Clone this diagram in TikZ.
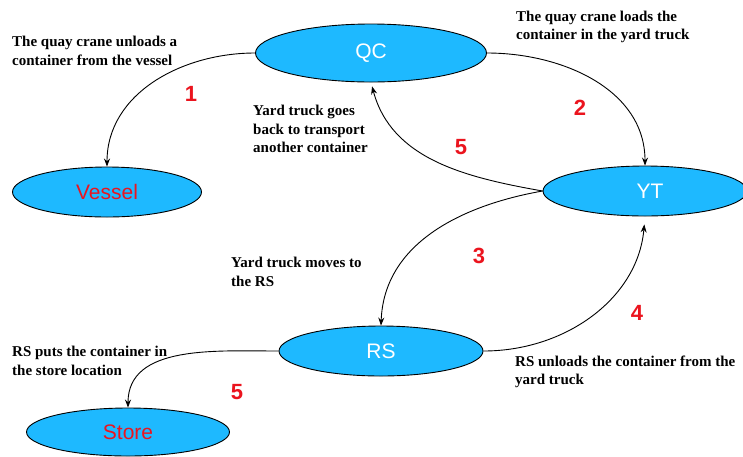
\documentclass[tikz,border=0pt]{standalone}
\usepackage{fontspec}
\setmainfont{Liberation Serif}
\newfontfamily\arialf{Liberation Sans}
\usetikzlibrary{shapes.geometric,arrows.meta}
\definecolor{nodeblue}{RGB}{30,185,255}
\definecolor{numred}{RGB}{235,20,30}
\tikzset{
  ell/.style={ellipse, draw=black, line width=0.9pt, fill=nodeblue, inner sep=0pt,
    font=\arialf\fontsize{21}{24}\selectfont},
  whitetext/.style={text=white},
  redtext/.style={text=numred},
  lbl/.style={anchor=west, inner sep=0pt, align=left,
    font=\bfseries\fontsize{15}{18.5}\selectfont},
  num/.style={text=numred, inner sep=0pt, font=\arialf\bfseries\fontsize{22}{24}\selectfont},
  conn/.style={draw=black, line width=0.9pt, -{Stealth[length=8pt,width=6pt]}}
}
\begin{document}
\begin{tikzpicture}[x=1pt,y=-1pt]
\useasboundingbox (0,0) rectangle (743,456);
\node[ell, whitetext, minimum width=231pt, minimum height=58pt] (qc) at (371,53) {QC};
\node[ell, redtext, minimum width=189pt, minimum height=50pt] (vessel) at (107,192) {Vessel};
\node[ell, whitetext, minimum width=204pt, minimum height=50pt] (yt) at (645,191) {\hspace*{10pt}YT};
\node[ell, whitetext, minimum width=204pt, minimum height=50pt] (rs) at (381,351) {RS};
\node[ell, redtext, minimum width=203pt, minimum height=48pt] (store) at (128,432) {Store};

\node[lbl] (l1) at (12,51) {The quay crane unloads a\\container from the vessel};
\node[lbl] (l2) at (516,27) {The quay crane loads the\\container in the yard truck};
\node[lbl] (l3) at (253,129) {Yard truck goes\\back to transport\\another container};
\node[lbl] (l4) at (231,272) {Yard truck moves to\\the RS};
\node[lbl] (l5) at (12,361) {RS puts the container in\\the store location};
\node[lbl] (l6) at (515,372) {RS unloads the container from the\\yard truck};

\node[num] (n1) at (191,94) {1};
\node[num] (n2) at (580,108) {2};
\node[num] (n5a) at (461,147) {5};
\node[num] (n3) at (479,256) {3};
\node[num] (n4) at (637,313) {4};
\node[num] (n5b) at (237,392) {5};

\draw[conn] (qc.west) to[out=180,in=90] (vessel.north);
\draw[conn] (qc.east) to[out=0,in=90] (yt.north);
\draw[conn, shorten >=4pt] (yt.west) to[out=170,in=-75] (qc.south);
\draw[conn] (yt.west) to[out=190,in=88] (rs.north);
\draw[conn, shorten >=8pt] (rs.east) to[out=0,in=-95] (yt.south);
\draw[conn] (rs.west) to[out=180,in=90] (store.north);
\end{tikzpicture}
\end{document}
